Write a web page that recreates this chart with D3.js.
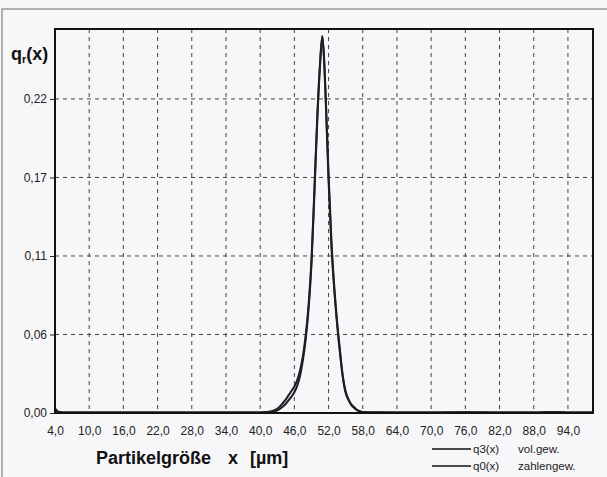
<!DOCTYPE html>
<html>
<head>
<meta charset="utf-8">
<script src="https://cdn.jsdelivr.net/npm/d3@7"></script>
<style>
  body { margin:0; background:#f7f7f9; }
  svg { display:block; font-family:Arial, "Liberation Sans", sans-serif; }
  .grid line { stroke:#444; stroke-width:1; stroke-dasharray:4,4; }
</style>
</head>
<body>
<div id="canvas"></div>
<script>
// particle size (µm)
var xs = [4, 4.5, 5, 6, 8, 12, 16, 20, 24, 28, 32, 36, 40, 41, 42, 42.5, 43, 43.5, 44, 44.5,
          45, 45.5, 46, 46.5, 47, 47.5, 48, 48.5, 49, 49.5, 50, 50.5, 50.9, 51.2, 51.5, 52, 52.5,
          53, 53.5, 54, 54.5, 55, 55.5, 56, 56.5, 57, 57.5, 58, 60, 64, 70, 76, 82, 88, 92, 94, 98.4];

// q3(x) vol.gew.
var q3 = [0.003, 0.001, 0.0006, 0.0004, 0.0003, 0.0003, 0.0004, 0.0003, 0.0004, 0.0003, 0.0003, 0.0003,
          0.0003, 0.0004, 0.0006, 0.001, 0.0018, 0.003, 0.0045, 0.0065, 0.009, 0.0115, 0.0145, 0.019,
          0.026, 0.037, 0.052, 0.073, 0.104, 0.152, 0.203, 0.243, 0.264, 0.250, 0.222, 0.167, 0.121,
          0.089, 0.064, 0.044, 0.026, 0.015, 0.0095, 0.006, 0.004, 0.0022, 0.0012, 0.0007, 0.0005,
          0.0004, 0.0003, 0.0006, 0.0003, 0.0004, 0.0007, 0.0003, 0.0003];

// q0(x) zahlengew.
var q0 = [0.003, 0.001, 0.0006, 0.0004, 0.0003, 0.0003, 0.0003, 0.0003, 0.0003, 0.0003, 0.0003, 0.0003,
          0.0004, 0.0007, 0.0012, 0.002, 0.003, 0.0048, 0.007, 0.0095, 0.0125, 0.0155, 0.0185, 0.023,
          0.030, 0.040, 0.055, 0.076, 0.107, 0.155, 0.206, 0.245, 0.264, 0.248, 0.219, 0.163, 0.117,
          0.086, 0.062, 0.042, 0.025, 0.014, 0.009, 0.0055, 0.0035, 0.002, 0.001, 0.0006, 0.0004,
          0.0003, 0.0003, 0.0005, 0.0003, 0.0003, 0.0006, 0.0003, 0.0003];

var xTicks = [4, 10, 16, 22, 28, 34, 40, 46, 52, 58, 64, 70, 76, 82, 88, 94];
var yTicks = [0, 0.055, 0.11, 0.165, 0.22];
var yTickLabels = ['0,00', '0,06', '0,11', '0,17', '0,22'];
var legendNames = ['q3(x)', 'q0(x)'];
var legendNotes = ['vol.gew.', 'zahlengew.'];

var outerWidth = 607, outerHeight = 477;
var m = {t:29, r:14, b:64, l:55};
var w = outerWidth - m.l - m.r,
    h = outerHeight - m.t - m.b;

var svg = d3.select('#canvas')
    .append('svg')
    .attr('width', outerWidth)
    .attr('height', outerHeight);

// scan page border (left / top)
svg.append('path')
    .attr('d', 'M2,477 L2,9 L607,9')
    .attr('fill', 'none')
    .attr('stroke', '#999')
    .attr('stroke-width', 1.5);

var plot = svg.append('g')
    .attr('transform', 'translate(' + m.l + ',' + m.t + ')');

var scaleX = d3.scaleLinear().domain([4, 98.4]).range([0, w]);
var scaleY = d3.scaleLinear().domain([0, 0.269]).range([h, 0]);

// grid
var grid = plot.append('g').attr('class', 'grid');
grid.selectAll('.vx')
    .data(xTicks.slice(1))
    .enter().append('line')
    .attr('x1', function(d){ return scaleX(d); })
    .attr('x2', function(d){ return scaleX(d); })
    .attr('y1', 0).attr('y2', h);
grid.selectAll('.hy')
    .data(yTicks.slice(1))
    .enter().append('line')
    .attr('x1', 0).attr('x2', w)
    .attr('y1', function(d){ return scaleY(d); })
    .attr('y2', function(d){ return scaleY(d); });

// axes
var axisX = d3.axisBottom(scaleX)
    .tickValues(xTicks)
    .tickSize(0)
    .tickPadding(13)
    .tickFormat(function(d){ return d3.format('.1f')(d).replace('.', ','); });
var axisY = d3.axisLeft(scaleY)
    .tickValues(yTicks)
    .tickSize(5)
    .tickPadding(3)
    .tickFormat(function(d, i){ return yTickLabels[i]; });

var gx = plot.append('g')
    .attr('transform', 'translate(0,' + h + ')')
    .call(axisX);
var gy = plot.append('g').call(axisY);
[gx, gy].forEach(function(g){
  g.select('.domain').remove();
  g.selectAll('text').style('font-size', '12px').style('font-family', 'Arial, "Liberation Sans", sans-serif').attr('fill', '#222');
  g.selectAll('line').attr('stroke', '#222');
});

// curves
var line = d3.line()
    .x(function(d){ return scaleX(d[0]); })
    .y(function(d){ return scaleY(d[1]); })
    .curve(d3.curveMonotoneX);

[q0, q3].forEach(function(series){
  plot.append('path')
      .datum(xs.map(function(x, i){ return [x, series[i]]; }))
      .attr('d', line)
      .attr('fill', 'none')
      .attr('stroke', '#1e1e24')
      .attr('stroke-width', 2);
});

// frame
plot.append('rect')
    .attr('width', w).attr('height', h)
    .attr('fill', 'none')
    .attr('stroke', '#111')
    .attr('stroke-width', 2);

// y title
var yt = svg.append('text')
    .attr('x', 11).attr('y', 60)
    .attr('font-size', 18).attr('font-weight', 'bold').attr('fill', '#111');
yt.append('tspan').text('q');
yt.append('tspan').attr('font-size', 11).attr('dy', 3).text('r');
yt.append('tspan').attr('dy', -3).text('(x)');

// x title
var xt = svg.append('g')
    .attr('font-size', 18).attr('font-weight', 'bold').attr('fill', '#111');
xt.append('text').attr('x', 96).attr('y', 464).text('Partikelgröße');
xt.append('text').attr('x', 228).attr('y', 464).text('x');
xt.append('text').attr('x', 250).attr('y', 464).text('[µm]');

// legend
var leg = svg.selectAll('.legend')
    .data(legendNames)
    .enter().append('g')
    .attr('transform', function(d, i){ return 'translate(432,' + (449 + i * 17) + ')'; });
leg.append('line')
    .attr('x1', 0).attr('x2', 39)
    .attr('stroke', '#111').attr('stroke-width', 1.5);
leg.append('text')
    .attr('x', 41).attr('y', 4)
    .attr('font-size', 11.5).attr('fill', '#222')
    .text(function(d){ return d; });
leg.append('text')
    .attr('x', 86).attr('y', 4)
    .attr('font-size', 11.5).attr('fill', '#222')
    .text(function(d, i){ return legendNotes[i]; });
</script>
</body>
</html>
